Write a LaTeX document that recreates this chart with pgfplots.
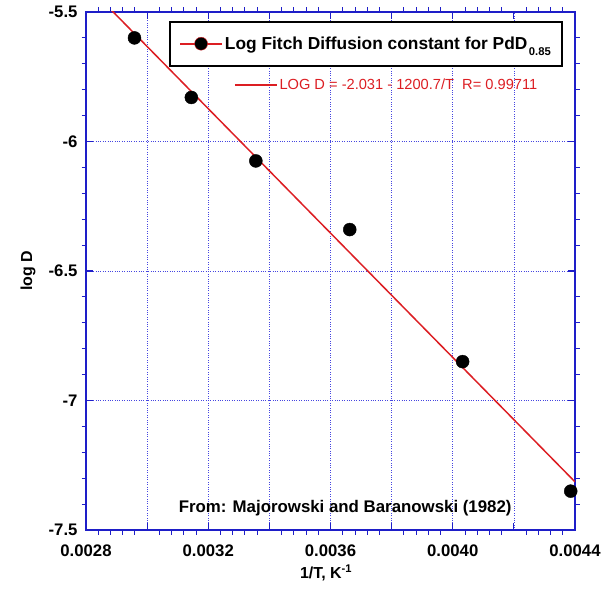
\documentclass[border=0pt]{standalone}
\usepackage{pgfplots}
\pgfplotsset{compat=1.18}
\usepackage{fontspec}
\setmainfont{Liberation Sans}
\definecolor{axblue}{RGB}{30,30,200}
\definecolor{gridblue}{RGB}{70,70,225}
\definecolor{fitred}{RGB}{220,30,35}
\begin{document}
\begin{tikzpicture}
\begin{axis}[
  at={(0bp,0bp)}, anchor=south west,
  scale only axis, width=489bp, height=518bp,
  xmin=0.0028, xmax=0.0044, ymin=-7.5, ymax=-5.5,
  scaled x ticks=false, scaled y ticks=false,
  axis line style={axblue, line width=1.3pt},
  xtick={0.0028,0.0030,0.0032,0.0034,0.0036,0.0038,0.0040,0.0042,0.0044},
  xticklabels={0.0028,,0.0032,,0.0036,,0.0040,,0.0044},
  ytick={-7.5,-7,-6.5,-6,-5.5},
  yticklabels={-7.5,-7,-6.5,-6,-5.5},
  tick align=inside, major tick length=7bp,
  major tick style={axblue, line width=1.1pt},
  grid=major, grid style={gridblue, dotted, line width=0.7pt},
  tick label style={font=\bfseries\fontsize{16.8}{18}\selectfont},
  xticklabel style={yshift=-11bp},
  yticklabel style={xshift=-5bp},
  xlabel={1/T, K\textsuperscript{-1}},
  ylabel={log D},
  label style={font=\bfseries\fontsize{16}{18}\selectfont},
  xlabel style={at={(axis description cs:0.491,-0.083)}, anchor=center},
  ylabel style={at={(axis description cs:-0.1186,0.5)}, anchor=center},
  legend style={at={(rel axis cs:0.1902,0.9388)}, anchor=west,
    draw=none, fill=none, inner sep=0pt,
    font=\bfseries\fontsize{17.4}{20}\selectfont},
  legend cell align=left,
  legend image code/.code={\draw[draw=fitred, line width=1.8pt] (0bp,0bp) -- (42bp,0bp);
    \fill[fill=black] (21bp,0bp) circle[radius=6.5bp];},
]
\addlegendimage{fitred}
\addlegendentry{Log Fitch Diffusion constant for PdD\hspace{1.5bp}\raisebox{-6bp}{\fontsize{11.3}{11}\selectfont 0.85}}
\addplot[fitred, line width=1.5pt, forget plot] coordinates {(0.0028,-5.3930) (0.0044,-7.3141)};
\addplot[only marks, mark=*, mark size=6.5bp, black, forget plot] coordinates {
  (0.0029586,-5.600)
  (0.0031447,-5.830)
  (0.0033557,-6.075)
  (0.0036630,-6.340)
  (0.0040323,-6.850)
  (0.0043860,-7.350)
};
\draw[black, line width=1.3pt, fill=white] (rel axis cs:0.1718,0.8958) rectangle (rel axis cs:0.9734,0.9807);
\node[font=\bfseries\fontsize{16.9}{18}\selectfont, anchor=center] at (rel axis cs:0.53,0.042) {From: Majorowski and Baranowski (1982)};
\end{axis}
\begin{axis}[
  at={(0bp,0bp)}, anchor=south west,
  scale only axis, width=489bp, height=518bp,
  xmin=0.0028, xmax=0.0044, ymin=-7.5, ymax=-5.5,
  scaled x ticks=false, scaled y ticks=false,
  axis line style={draw=none},
  xtick={0.0028,0.0030,0.0032,0.0034,0.0036,0.0038,0.0040,0.0042,0.0044},
  ytick={-7.5,-7,-6.5,-6,-5.5},
  xticklabels={}, yticklabels={},
  major tick length=0pt,
  minor x tick num=4, minor y tick num=4,
  tick align=outside, minor tick length=4.5bp,
  minor tick style={axblue, line width=0.9pt},
  legend style={at={(rel axis cs:0.3027,0.859)}, anchor=west, draw=none, fill=none,
    inner sep=0pt, font=\fontsize{14.7}{17}\selectfont, text=fitred},
  legend image code/.code={\draw[#1] (0bp,0bp) -- (42bp,0bp);},
]
\addlegendimage{draw=fitred, line width=1.3pt}
\addlegendentry{LOG D = -2.031 - 1200.7/T~~R= 0.99711}
\end{axis}
\pgfresetboundingbox
\path (-86bp,-61bp) rectangle (516bp,530bp);
\end{tikzpicture}
\end{document}
